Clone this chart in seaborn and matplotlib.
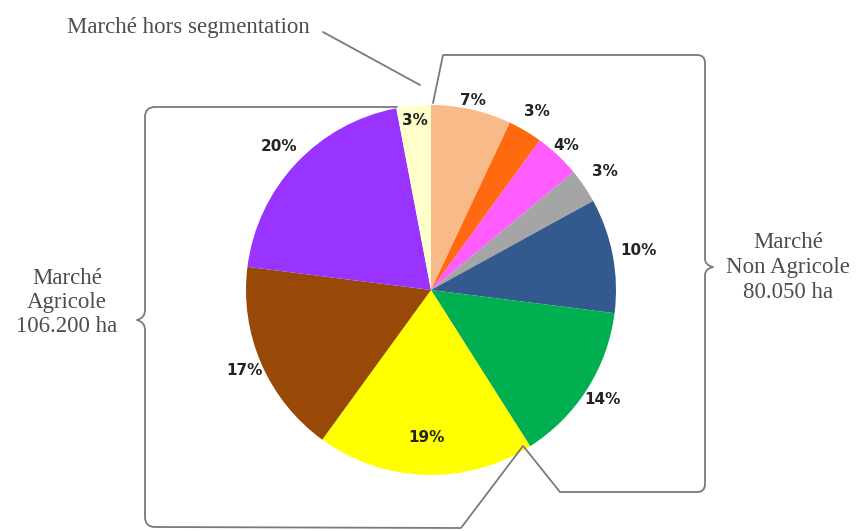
import matplotlib
matplotlib.use("Agg")
import matplotlib.pyplot as plt
from matplotlib.path import Path
from matplotlib.patches import PathPatch
import numpy as np
import seaborn as sns

# Share of each land segment (%), clockwise from 12 o'clock
shares = [7, 3, 4, 3, 10, 14, 19, 17, 20, 3]
slice_colors = ["#F9BA8A", "#FF6A10", "#FF5CFF", "#A5A5A5", "#33598F",
                "#00B050", "#FFFF00", "#984807", "#9933FF", "#FFFFCC"]

# Group captions
hors_segmentation = "Marché hors segmentation"
non_agricole_lines = ["Marché", "Non Agricole", "80.050 ha"]
agricole_lines = ["Marché", "Agricole", "106.200 ha"]

sns.set_theme(style="white")
plt.rcParams["font.family"] = ["DejaVu Sans"]

W, H = 861, 531
fig = plt.figure(figsize=(W / 100, H / 100), dpi=100)
ax = fig.add_axes([0, 0, 1, 1])


def px(x, y):
    """Convert top-left pixel coordinates to axes data coordinates."""
    return (x, H - y)


center = px(431, 290)
radius = 185
wedges, _ = ax.pie(shares, colors=slice_colors, startangle=90, counterclock=False,
                   center=center, radius=radius, frame=True,
                   wedgeprops=dict(linewidth=0))

# Percentage labels, placed along each wedge's bisector
label_radius = [1.05, 1.12, 1.07, 1.14, 1.14, 1.10, 0.80, 1.10, 1.13, 0.92]
for w, v, f in zip(wedges, shares, label_radius):
    ang = np.deg2rad((w.theta1 + w.theta2) / 2)
    x = center[0] + radius * f * np.cos(ang)
    y = center[1] + radius * f * np.sin(ang)
    ax.text(x, y, f"{v}%", ha="center", va="center", fontsize=11,
            fontweight="bold", color="#222222")

line_kw = dict(facecolor="none", edgecolor="#7A7A7A", linewidth=1.3,
               capstyle="round", joinstyle="round")

M, L, C = Path.MOVETO, Path.LINETO, Path.CURVE3

# Left brace: agricultural market
left_pts = [(397, 107), (155, 107), (145, 107), (145, 117), (145, 310),
            (145, 318), (137, 320), (145, 322), (145, 330), (145, 517),
            (145, 527), (155, 527), (461, 528), (523, 446)]
left_codes = [M, L, C, C, L, C, C, C, C, L, C, C, L, L]
ax.add_patch(PathPatch(Path([px(*p) for p in left_pts], left_codes), **line_kw))

# Right brace: non-agricultural market
right_pts = [(433, 103), (443, 55), (697, 55), (705, 55), (705, 63),
             (705, 259), (705, 265), (713, 267), (705, 269), (705, 275),
             (705, 484), (705, 492), (697, 492), (560, 492), (524, 447)]
right_codes = [M, L, L, C, C, L, C, C, C, C, L, C, C, L, L]
ax.add_patch(PathPatch(Path([px(*p) for p in right_pts], right_codes), **line_kw))

# Leader for the unsegmented market
ax.add_patch(PathPatch(Path([px(323, 32), px(420, 85)], [M, L]), **line_kw))

serif = dict(family=["Liberation Serif", "DejaVu Serif"], fontsize=16.5,
             color="#4D4D4D", ha="center", va="center")
ax.text(*px(188, 27), hors_segmentation, **serif)
for i, t in enumerate(non_agricole_lines):
    ax.text(*px(788, 243 + 24.5 * i), t, **serif)
for i, t in enumerate(agricole_lines):
    ax.text(*px(67, 278 + 24.5 * i), t, **serif)

ax.set_xlim(0, W)
ax.set_ylim(0, H)
ax.set_aspect("equal")
ax.axis("off")

fig.savefig("out.png", dpi=100, facecolor="white")
